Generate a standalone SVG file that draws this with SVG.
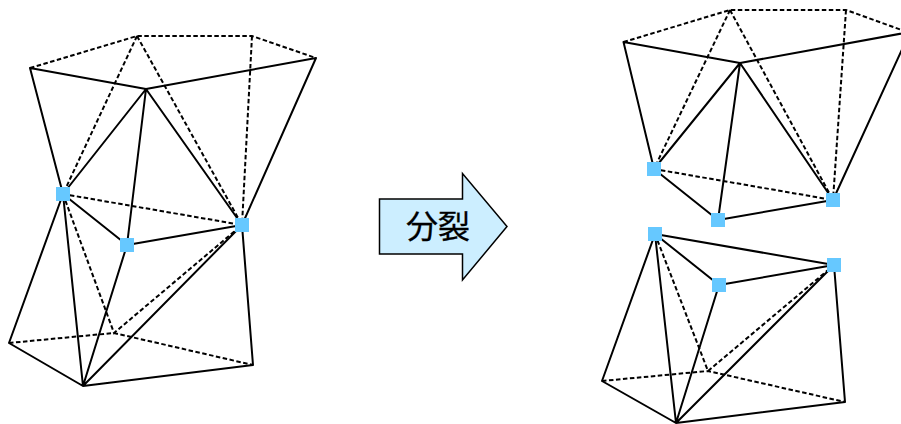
<svg xmlns="http://www.w3.org/2000/svg" width="901" height="424" viewBox="0 0 901 424">
<style>
.s{fill:none;stroke:#000;stroke-width:2;stroke-linecap:round;stroke-linejoin:round}
.d{fill:none;stroke:#000;stroke-width:2;stroke-dasharray:4.500 2.500}
.n{fill:#66c8ff;stroke:none}
.a{fill:#cceeff;stroke:#000;stroke-width:1.500}
.t{font-family:"Noto Sans CJK JP","Noto Sans CJK SC",sans-serif;font-size:32px;font-weight:400;fill:#000;stroke:#000;stroke-width:0.300;text-anchor:middle}
</style>
<rect width="901" height="424" fill="#fff"/>
<g id="connectors">
<g id="left-dashed" class="d"><path d="M30 68L137 36L252 36L316 58M137 36L63 194M137 36L242 225M252 36L242 225M63 194L242 225M63 194L114 333L242 225M9 343L114 333L253 365"/></g>
<g id="left-solid" class="s"><path d="M30 68L146 89L316 58L242 225M30 68L63 194L146 89L127 245M146 89L242 225M63 194L127 245L242 225M63 194L9 343L83 386L253 365L242 225M63 194L83 386M127 245L83 386M242 225L83 386"/></g>
<g id="upper-dashed" class="d"><path d="M623.500 42L730 10L846 10L910 33M730 10L654 169M730 10L833 200M846 10L833 200M654 169L833 200"/></g>
<g id="upper-solid" class="s"><path d="M623.500 42L740 63L910 32L833 200M623.500 42L654 169L740 63L718 220M740 63L833 200M654 169L718 220L833 200"/></g>
<g id="lower-dashed" class="d"><path d="M655 234L708 371L834 265M602 381L708 371L845 402"/></g>
<g id="lower-solid" class="s"><path d="M655 234L834 265M655 234L719 285L834 265M655 234L602 381L676 423L845 402L834 265M655 234L676 423M719 285L676 423M834 265L676 423"/></g>
</g>
<g id="split-arrow">
<polygon class="a" points="379.500,199 462.500,199 462.500,173.500 507,226.500 462.500,280 462.500,254 379.500,254"/>
<text class="t" x="438" y="238">分裂</text>
</g>
<g id="left-p"><rect class="n" x="56" y="187" width="14" height="14"/></g>
<g id="left-q"><rect class="n" x="120" y="238" width="14" height="14"/></g>
<g id="left-r"><rect class="n" x="235" y="218" width="14" height="14"/></g>
<g id="upper-p"><rect class="n" x="647" y="162" width="14" height="14"/></g>
<g id="upper-q"><rect class="n" x="711" y="213" width="14" height="14"/></g>
<g id="upper-r"><rect class="n" x="826" y="193" width="14" height="14"/></g>
<g id="lower-p"><rect class="n" x="648" y="227" width="14" height="14"/></g>
<g id="lower-q"><rect class="n" x="712" y="278" width="14" height="14"/></g>
<g id="lower-r"><rect class="n" x="827" y="258" width="14" height="14"/></g>
</svg>
